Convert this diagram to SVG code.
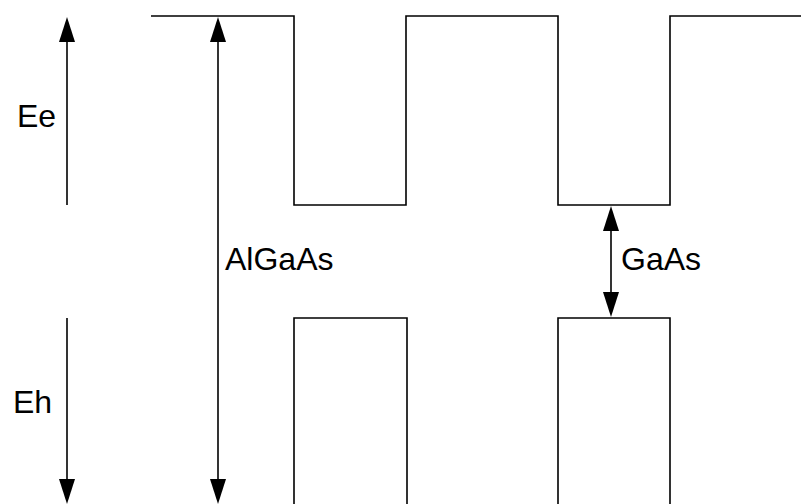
<svg xmlns="http://www.w3.org/2000/svg" width="801" height="504" viewBox="0 0 801 504">
<style>
.ln{fill:none;stroke:#000;stroke-width:1.6}
.ar{stroke:#000;stroke-width:1.6;fill:none}
.hd{fill:#000}
text{font-family:"Liberation Sans",Arial,sans-serif;font-size:32px;fill:#000}
</style>
<rect width="801" height="504" fill="#fff"/>
<g id="band-top"><polyline class="ln" points="151,16 294,16 294,205 406,205 406,16 558,16 558,205 670,205 670,16 801,16"/></g>
<g id="well-left"><polyline class="ln" points="294,504 294,318 407,318 407,504"/></g>
<g id="well-right"><polyline class="ln" points="558,504 558,318 670,318 670,504"/></g>
<g id="connectors">
<line class="ar" x1="67" y1="205" x2="67" y2="40"/>
<polygon class="hd" points="67,17 59,42 75,42"/>
<line class="ar" x1="67" y1="318" x2="67" y2="480"/>
<polygon class="hd" points="67,504 59,479 75,479"/>
<line class="ar" x1="218" y1="40" x2="218" y2="480"/>
<polygon class="hd" points="218,17 210,42 226,42"/>
<polygon class="hd" points="218,504 210,479 226,479"/>
<line class="ar" x1="611" y1="230" x2="611" y2="294"/>
<polygon class="hd" points="611,206 603,231 619,231"/>
<polygon class="hd" points="611,317 603,292 619,292"/>
</g>
<g id="labels">
<text x="17" y="127">Ee</text>
<text x="13" y="413">Eh</text>
<text x="225" y="270">AlGaAs</text>
<text x="621" y="270">GaAs</text>
</g>
</svg>
